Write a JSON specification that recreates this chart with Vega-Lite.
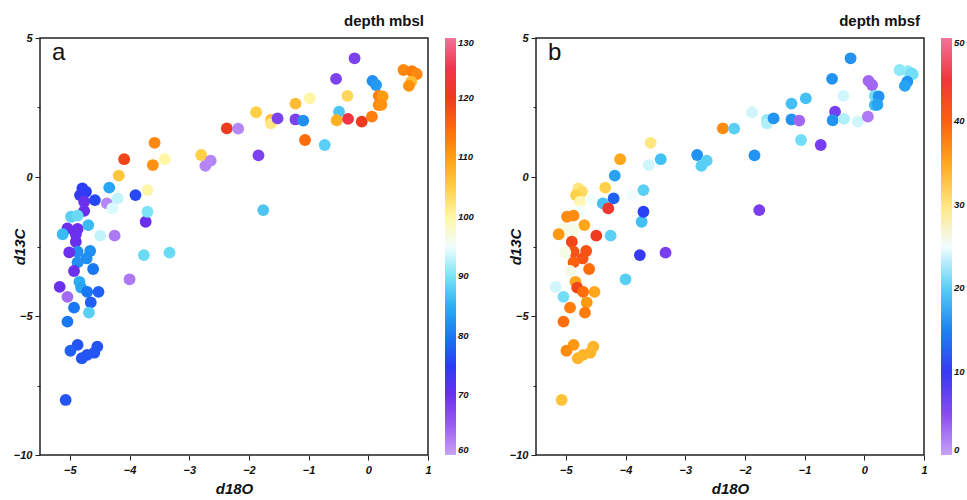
{
  "$schema": "https://vega.github.io/schema/vega-lite/v6.json",
  "background": "white",
  "padding": {"left": 11, "top": 13, "right": 0, "bottom": 0},
  "datasets": {
    "pts": [
      {"d18O": -0.23, "d13C": 4.27, "mbsl": 68, "mbsf": 16},
      {"d18O": -0.54, "d13C": 3.53, "mbsl": 68, "mbsf": 16},
      {"d18O": 0.07, "d13C": 3.46, "mbsl": 82, "mbsf": 3},
      {"d18O": 0.13, "d13C": 3.31, "mbsl": 83, "mbsf": 3},
      {"d18O": 0.59, "d13C": 3.85, "mbsl": 112, "mbsf": 22},
      {"d18O": 0.73, "d13C": 3.81, "mbsl": 113, "mbsf": 22},
      {"d18O": 0.79, "d13C": 3.73, "mbsl": 113, "mbsf": 21},
      {"d18O": 0.81, "d13C": 3.70, "mbsl": 112, "mbsf": 21},
      {"d18O": 0.72, "d13C": 3.43, "mbsl": 107, "mbsf": 16},
      {"d18O": 0.68, "d13C": 3.28, "mbsl": 111, "mbsf": 17},
      {"d18O": -0.35, "d13C": 2.92, "mbsl": 104, "mbsf": 24},
      {"d18O": 0.175, "d13C": 2.92, "mbsl": 113, "mbsf": 21},
      {"d18O": 0.24, "d13C": 2.90, "mbsl": 110, "mbsf": 16},
      {"d18O": 0.175, "d13C": 2.59, "mbsl": 112, "mbsf": 19},
      {"d18O": 0.22, "d13C": 2.60, "mbsl": 111, "mbsf": 17},
      {"d18O": -0.98, "d13C": 2.83, "mbsl": 100, "mbsf": 19},
      {"d18O": -1.22, "d13C": 2.64, "mbsl": 107, "mbsf": 19},
      {"d18O": -0.49, "d13C": 2.35, "mbsl": 87, "mbsf": 6},
      {"d18O": -0.53, "d13C": 2.04, "mbsl": 108, "mbsf": 16},
      {"d18O": -0.34, "d13C": 2.09, "mbsl": 124, "mbsf": 23},
      {"d18O": -0.11, "d13C": 1.99, "mbsl": 120, "mbsf": 24},
      {"d18O": 0.06, "d13C": 2.17, "mbsl": 113, "mbsf": 2},
      {"d18O": -1.88, "d13C": 2.33, "mbsl": 105, "mbsf": 24},
      {"d18O": -1.63, "d13C": 2.05, "mbsl": 107, "mbsf": 22},
      {"d18O": -1.63, "d13C": 1.93, "mbsl": 102, "mbsf": 23},
      {"d18O": -1.52, "d13C": 2.11, "mbsl": 68, "mbsf": 16},
      {"d18O": -1.22, "d13C": 2.07, "mbsl": 68, "mbsf": 16},
      {"d18O": -1.09, "d13C": 2.03, "mbsl": 82, "mbsf": 3},
      {"d18O": -2.37, "d13C": 1.75, "mbsl": 120, "mbsf": 37},
      {"d18O": -2.18, "d13C": 1.74, "mbsl": 62, "mbsf": 20},
      {"d18O": -1.06, "d13C": 1.33, "mbsl": 115, "mbsf": 21},
      {"d18O": -0.73, "d13C": 1.15, "mbsl": 88, "mbsf": 6},
      {"d18O": -3.58, "d13C": 1.23, "mbsl": 112, "mbsf": 30},
      {"d18O": -3.61, "d13C": 0.43, "mbsl": 111, "mbsf": 24},
      {"d18O": -3.41, "d13C": 0.64, "mbsl": 100, "mbsf": 19},
      {"d18O": -4.09, "d13C": 0.64, "mbsl": 119, "mbsf": 35},
      {"d18O": -4.18, "d13C": 0.05, "mbsl": 106, "mbsf": 17},
      {"d18O": -2.80, "d13C": 0.79, "mbsl": 105, "mbsf": 16},
      {"d18O": -2.73, "d13C": 0.40, "mbsl": 62, "mbsf": 20},
      {"d18O": -2.64, "d13C": 0.59, "mbsl": 62, "mbsf": 20},
      {"d18O": -1.84, "d13C": 0.78, "mbsl": 68, "mbsf": 16},
      {"d18O": -1.76, "d13C": -1.19, "mbsl": 87, "mbsf": 6},
      {"d18O": -4.79, "d13C": -0.41, "mbsl": 75, "mbsf": 30},
      {"d18O": -4.73, "d13C": -0.53, "mbsl": 75, "mbsf": 31},
      {"d18O": -4.83, "d13C": -0.65, "mbsl": 74, "mbsf": 32},
      {"d18O": -4.76, "d13C": -0.89, "mbsl": 70, "mbsf": 28},
      {"d18O": -4.58, "d13C": -0.83, "mbsl": 76, "mbsf": 25},
      {"d18O": -4.76, "d13C": -1.22, "mbsl": 70, "mbsf": 25},
      {"d18O": -4.34, "d13C": -0.38, "mbsl": 84, "mbsf": 32},
      {"d18O": -4.38, "d13C": -0.95, "mbsl": 62, "mbsf": 19},
      {"d18O": -4.20, "d13C": -0.77, "mbsl": 93, "mbsf": 13},
      {"d18O": -4.29, "d13C": -1.13, "mbsl": 94, "mbsf": 44},
      {"d18O": -3.90, "d13C": -0.65, "mbsl": 76, "mbsf": 25},
      {"d18O": -3.70, "d13C": -0.47, "mbsl": 100, "mbsf": 20},
      {"d18O": -3.73, "d13C": -1.61, "mbsl": 70, "mbsf": 19},
      {"d18O": -3.70, "d13C": -1.25, "mbsl": 90, "mbsf": 11},
      {"d18O": -4.98, "d13C": -1.43, "mbsl": 88, "mbsf": 37},
      {"d18O": -4.87, "d13C": -1.39, "mbsl": 89, "mbsf": 37},
      {"d18O": -4.69, "d13C": -1.73, "mbsl": 86, "mbsf": 35},
      {"d18O": -5.04, "d13C": -1.85, "mbsl": 70, "mbsf": 26},
      {"d18O": -4.87, "d13C": -1.87, "mbsl": 70, "mbsf": 26},
      {"d18O": -5.12, "d13C": -2.06, "mbsl": 86, "mbsf": 36},
      {"d18O": -4.90, "d13C": -2.06, "mbsl": 70, "mbsf": 26},
      {"d18O": -4.90, "d13C": -2.33, "mbsl": 70, "mbsf": 42},
      {"d18O": -4.49, "d13C": -2.11, "mbsl": 93, "mbsf": 43},
      {"d18O": -4.25, "d13C": -2.11, "mbsl": 63, "mbsf": 20},
      {"d18O": -4.87, "d13C": -2.69, "mbsl": 82, "mbsf": 41},
      {"d18O": -4.66, "d13C": -2.66, "mbsl": 82, "mbsf": 41},
      {"d18O": -5.01, "d13C": -2.71, "mbsl": 70, "mbsf": 26},
      {"d18O": -4.72, "d13C": -2.93, "mbsl": 82, "mbsf": 41},
      {"d18O": -4.87, "d13C": -3.07, "mbsl": 82, "mbsf": 40},
      {"d18O": -4.93, "d13C": -3.38, "mbsl": 70, "mbsf": 26},
      {"d18O": -4.61, "d13C": -3.31, "mbsl": 80, "mbsf": 39},
      {"d18O": -3.76, "d13C": -2.81, "mbsl": 89, "mbsf": 10},
      {"d18O": -4.00, "d13C": -3.68, "mbsl": 63, "mbsf": 20},
      {"d18O": -3.33, "d13C": -2.72, "mbsl": 89, "mbsf": 6},
      {"d18O": -5.17, "d13C": -3.95, "mbsl": 70, "mbsf": 24},
      {"d18O": -4.84, "d13C": -3.77, "mbsl": 85, "mbsf": 35},
      {"d18O": -4.81, "d13C": -3.98, "mbsl": 84, "mbsf": 42},
      {"d18O": -4.71, "d13C": -4.13, "mbsl": 80, "mbsf": 39},
      {"d18O": -4.52, "d13C": -4.13, "mbsl": 78, "mbsf": 35},
      {"d18O": -5.04, "d13C": -4.31, "mbsl": 64, "mbsf": 21},
      {"d18O": -4.65, "d13C": -4.51, "mbsl": 78, "mbsf": 36},
      {"d18O": -4.93, "d13C": -4.70, "mbsl": 80, "mbsf": 38},
      {"d18O": -4.68, "d13C": -4.88, "mbsl": 88, "mbsf": 38},
      {"d18O": -5.04, "d13C": -5.20, "mbsl": 80, "mbsf": 39},
      {"d18O": -4.87, "d13C": -6.04, "mbsl": 77, "mbsf": 36},
      {"d18O": -4.99, "d13C": -6.25, "mbsl": 78, "mbsf": 37},
      {"d18O": -4.54, "d13C": -6.10, "mbsl": 77, "mbsf": 34},
      {"d18O": -4.59, "d13C": -6.32, "mbsl": 77, "mbsf": 34},
      {"d18O": -4.71, "d13C": -6.40, "mbsl": 77, "mbsf": 34},
      {"d18O": -4.80, "d13C": -6.52, "mbsl": 77, "mbsf": 34},
      {"d18O": -5.07, "d13C": -8.02, "mbsl": 77, "mbsf": 33}
    ]
  },
  "config": {
    "font": "Liberation Sans",
    "view": {"stroke": "#222222", "strokeWidth": 1.5},
    "axis": {
      "domain": false,
      "grid": false,
      "tickColor": "#222222",
      "labelFont": "Liberation Sans",
      "labelFontSize": 11,
      "labelFontWeight": "bold",
      "labelFontStyle": "italic",
      "labelColor": "#111111",
      "titleFont": "Liberation Sans",
      "titleFontSize": 15,
      "titleFontWeight": "bold",
      "titleFontStyle": "italic",
      "titleColor": "#111111",
      "labelOverlap": false,
      "labelFlush": false
    },
    "legend": {
      "labelFont": "Liberation Sans",
      "labelFontSize": 9.5,
      "labelFontWeight": "bold",
      "labelFontStyle": "italic",
      "labelColor": "#111111",
      "gradientLength": 417,
      "gradientThickness": 11,
      "gradientStrokeWidth": 0,
      "offset": 17,
      "labelFlush": false,
      "labelOverlap": false
    },
    "title": {"font": "Liberation Sans", "fontSize": 15, "fontWeight": "bold", "anchor": "end", "frame": "group", "offset": 3, "dx": -4, "color": "#111111"}
  },
  "spacing": 32,
  "resolve": {"scale": {"color": "independent"}, "legend": {"color": "independent"}},
  "hconcat": [
    {
      "width": 388,
      "height": 417,
      "title": "depth mbsl",
      "layer": [
        {
          "data": {"name": "pts"},
          "mark": {"type": "circle", "size": 140, "opacity": 1},
          "encoding": {
            "x": {"field": "d18O", "type": "quantitative", "title": "d18O",
              "scale": {"domain": [-5.5, 1], "nice": false, "zero": false},
              "axis": {"values": [-5, -4.5, -4, -3.5, -3, -2.5, -2, -1.5, -1, -0.5, 0, 0.5, 1],
                "format": "d",
                "labelOverlap": false,
                "labelExpr": "abs(datum.value - round(datum.value)) < 0.01 ? datum.label : ''",
                "tickSize": {"condition": {"test": "abs(datum.value - round(datum.value)) > 0.01", "value": 3}, "value": 5},
                "labelPadding": 4, "titlePadding": 6}},
            "y": {"field": "d13C", "type": "quantitative", "title": "d13C",
              "scale": {"domain": [-10, 5], "nice": false, "zero": false},
              "axis": {"values": [-10, -7.5, -5, -2.5, 0, 2.5, 5],
                "format": "d",
                "labelOverlap": false,
                "labelExpr": "datum.value % 5 == 0 ? datum.label : ''",
                "tickSize": {"condition": {"test": "datum.value % 5 != 0", "value": 3}, "value": 5},
                "labelPadding": 3, "titlePadding": -14}},
            "color": {"field": "mbsl", "type": "quantitative",
              "scale": {"domain": [60, 65, 70, 75, 80, 85, 90, 95, 100, 105, 110, 115, 120, 125, 130],
                "range": ["#c7a2f7", "#9a5cf2", "#6a30ee", "#2a3cf6", "#1a78f2", "#2bb0f3", "#7ae4f6", "#f2fdff", "#fff6a6", "#ffcf45", "#ff9d12", "#ff6a0a", "#ee3a1e", "#f2344e", "#f4729a"],
                "interpolate": "rgb", "clamp": true},
              "legend": {"title": null, "values": [60, 70, 80, 90, 100, 110, 120, 130]}}
          }
        },
        {
          "data": {"values": [{"label": "a"}]},
          "mark": {"type": "text", "fontSize": 24, "align": "left", "baseline": "middle", "font": "Liberation Sans", "color": "#111111"},
          "encoding": {
            "x": {"datum": -5.3, "type": "quantitative"},
            "y": {"datum": 4.45, "type": "quantitative"},
            "text": {"field": "label"}
          }
        }
      ]
    },
    {
      "width": 388,
      "height": 417,
      "title": "depth mbsf",
      "layer": [
        {
          "data": {"name": "pts"},
          "mark": {"type": "circle", "size": 140, "opacity": 1},
          "encoding": {
            "x": {"field": "d18O", "type": "quantitative", "title": "d18O",
              "scale": {"domain": [-5.5, 1], "nice": false, "zero": false},
              "axis": {"values": [-5, -4.5, -4, -3.5, -3, -2.5, -2, -1.5, -1, -0.5, 0, 0.5, 1],
                "format": "d",
                "labelOverlap": false,
                "labelExpr": "abs(datum.value - round(datum.value)) < 0.01 ? datum.label : ''",
                "tickSize": {"condition": {"test": "abs(datum.value - round(datum.value)) > 0.01", "value": 3}, "value": 5},
                "labelPadding": 4, "titlePadding": 6}},
            "y": {"field": "d13C", "type": "quantitative", "title": "d13C",
              "scale": {"domain": [-10, 5], "nice": false, "zero": false},
              "axis": {"values": [-10, -7.5, -5, -2.5, 0, 2.5, 5],
                "format": "d",
                "labelOverlap": false,
                "labelExpr": "datum.value % 5 == 0 ? datum.label : ''",
                "tickSize": {"condition": {"test": "datum.value % 5 != 0", "value": 3}, "value": 5},
                "labelPadding": 3, "titlePadding": -14}},
            "color": {"field": "mbsf", "type": "quantitative",
              "scale": {"domain": [0, 3.571, 7.143, 10.714, 14.286, 17.857, 21.429, 25, 28.571, 32.143, 35.714, 39.286, 42.857, 46.429, 50],
                "range": ["#c7a2f7", "#9a5cf2", "#6a30ee", "#2a3cf6", "#1a78f2", "#2bb0f3", "#7ae4f6", "#f2fdff", "#fff6a6", "#ffcf45", "#ff9d12", "#ff6a0a", "#ee3a1e", "#f2344e", "#f4729a"],
                "interpolate": "rgb", "clamp": true},
              "legend": {"title": null, "values": [0, 10, 20, 30, 40, 50]}}
          }
        },
        {
          "data": {"values": [{"label": "b"}]},
          "mark": {"type": "text", "fontSize": 24, "align": "left", "baseline": "middle", "font": "Liberation Sans", "color": "#111111"},
          "encoding": {
            "x": {"datum": -5.3, "type": "quantitative"},
            "y": {"datum": 4.45, "type": "quantitative"},
            "text": {"field": "label"}
          }
        }
      ]
    }
  ]
}
